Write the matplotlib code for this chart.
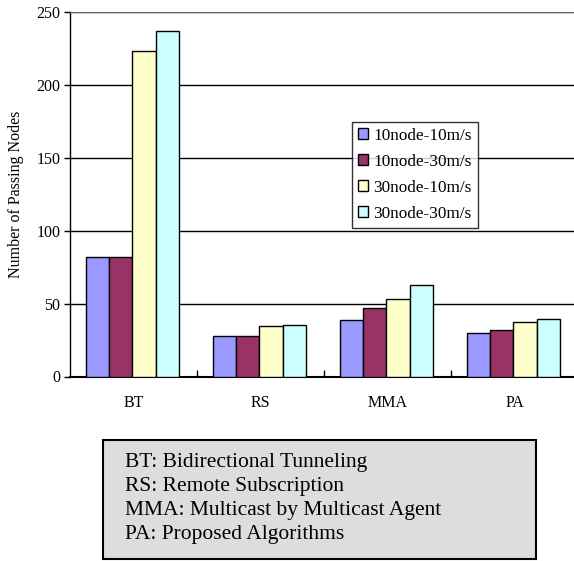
import numpy as np
import matplotlib
matplotlib.use("Agg")
import matplotlib.pyplot as plt
from matplotlib.patches import Rectangle

plt.rcParams['font.family'] = ['Liberation Serif', 'DejaVu Serif']

categories = ["BT", "RS", "MMA", "PA"]
series = ["10node-10m/s", "10node-30m/s", "30node-10m/s", "30node-30m/s"]
values = [
    [82, 28, 39, 30],      # 10node-10m/s
    [82, 28, 47, 32],      # 10node-30m/s
    [223, 34.5, 53, 37.7],  # 30node-10m/s
    [237, 35.3, 62.5, 39.2],  # 30node-30m/s
]
colors = ["#9999FF", "#993366", "#FFFFCC", "#CCFFFF"]
notes = [
    "BT: Bidirectional Tunneling",
    "RS: Remote Subscription",
    "MMA: Multicast by Multicast Agent",
    "PA: Proposed Algorithms",
]

W, H = 574, 561
fig = plt.figure(figsize=(W / 100, H / 100), dpi=100)
# axes runs a little past the right edge of the figure
ax = fig.add_axes([70 / W, (H - 376.5) / H, 508 / W, 364.5 / H])

x = np.arange(len(categories))
bw = 0.182
for i, (name, vals) in enumerate(zip(series, values)):
    ax.bar(x + (i - 1.5) * bw - 0.008, vals, bw, color=colors[i],
           edgecolor="black", linewidth=1, label=name, zorder=3)

ax.set_xlim(-0.5, 3.5)
ax.set_ylim(0, 250)
ax.set_yticks(np.arange(0, 251, 50))
ax.yaxis.grid(True, color="black", linewidth=1)
ax.set_axisbelow(True)

ax.set_xticks(x)
ax.set_xticklabels(categories, fontsize=11.5)
ax.set_xticks(x[:-1] + 0.5, minor=True)
ax.tick_params(axis="x", which="major", length=0, pad=13)
ax.tick_params(axis="x", which="minor", direction="in", length=5, width=1)
ax.tick_params(axis="y", length=4, width=1, labelsize=11.5, pad=3)

ax.spines["right"].set_visible(False)
ax.spines["top"].set_color("#666666")
ax.spines["left"].set_linewidth(1)
ax.spines["bottom"].set_linewidth(1.5)

ax.set_ylabel("Number of Passing Nodes", fontsize=11.5, labelpad=9)

leg = ax.legend(loc="upper left", bbox_to_anchor=(352 / W, 1 - 122 / H),
                bbox_transform=fig.transFigure, fontsize=12.4, frameon=True,
                fancybox=False, handlelength=0.6, handleheight=0.6,
                handletextpad=0.3, labelspacing=0.58, borderpad=0.35,
                borderaxespad=0)
leg.get_frame().set_edgecolor("black")
leg.get_frame().set_linewidth(1)
for h in leg.legend_handles:
    h.set_linewidth(1)

# abbreviation key below the chart
fig.patches.append(Rectangle((103 / W, (H - 559) / H), 433 / W, 119 / H,
                             transform=fig.transFigure, facecolor="#DDDDDD",
                             edgecolor="black", linewidth=1.5))
fig.text(125 / W, 1 - 498.5 / H, "\n".join(notes), fontsize=15.5,
         va="center", ha="left", linespacing=1.36,
         transform=fig.transFigure)

fig.savefig("out.png", dpi=100)
